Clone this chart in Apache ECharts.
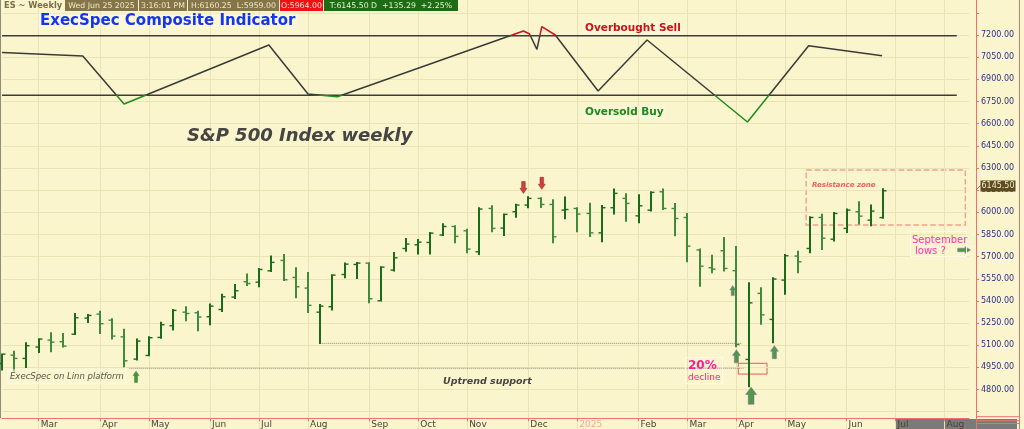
<!DOCTYPE html>
<html>
<head>
<meta charset="utf-8">
<script src="https://cdn.jsdelivr.net/npm/echarts/dist/echarts.min.js"></script>
<style>
html,body{margin:0;padding:0;background:#faf5cc;}
#c{width:1024px;height:429px;}
</style>
</head>
<body>
<div id="c"></div>
<script>
// ---- weekly categories (Friday dates) ----
const weeks = ['2024-02-09','2024-02-16','2024-02-23','2024-03-01','2024-03-08','2024-03-15','2024-03-22','2024-03-29',
'2024-04-05','2024-04-12','2024-04-19','2024-04-26','2024-05-03','2024-05-10','2024-05-17','2024-05-24','2024-05-31',
'2024-06-07','2024-06-14','2024-06-21','2024-06-28','2024-07-05','2024-07-12','2024-07-19','2024-07-26',
'2024-08-02','2024-08-09','2024-08-16','2024-08-23','2024-08-30','2024-09-06','2024-09-13','2024-09-20','2024-09-27',
'2024-10-04','2024-10-11','2024-10-18','2024-10-25','2024-11-01','2024-11-08','2024-11-15','2024-11-22','2024-11-29',
'2024-12-06','2024-12-13','2024-12-20','2024-12-27','2025-01-03','2025-01-10','2025-01-17','2025-01-24','2025-01-31',
'2025-02-07','2025-02-14','2025-02-21','2025-02-28','2025-03-07','2025-03-14','2025-03-21','2025-03-28',
'2025-04-04','2025-04-11','2025-04-18','2025-04-25','2025-05-02','2025-05-09','2025-05-16','2025-05-23','2025-05-30',
'2025-06-06','2025-06-13','2025-06-20','2025-06-27','2025-07-04','2025-07-11','2025-07-18','2025-07-25',
'2025-08-01','2025-08-08','2025-08-15'];

// ---- ES weekly OHLC ----
const opens = [4977,5033,5011,5088,5135,5124,5175,5284,5311,5270,5157,5006,5031,5153,5232,5324,5320,5293,5342,5426,
5530,5527,5604,5674,5559,5487,5324,5361,5579,5647,5656,5401,5609,5755,5780,5796,5846,5904,5875,5733,
6026,5893,6004,6049,6094,6053,6015,6026,5992,5861,6031,6094,5976,6015,6139,6026,5965,5745,5625,5740,
5605,5004,5451,5275,5541,5704,5755,5965,5818,5891,6004,5947,5964];
const highs = [5040,5060,5117,5144,5185,5180,5315,5309,5331,5279,5209,5142,5157,5255,5342,5361,5331,5379,5446,5512,
5582,5620,5704,5715,5625,5593,5376,5577,5656,5661,5658,5631,5728,5823,5816,5864,5922,5909,5886,6031,
6044,5988,6055,6105,6098,6085,6103,6031,6062,6046,6157,6125,6119,6139,6157,6060,5992,5751,5710,5830,
5769,5523,5489,5557,5715,5737,5970,5986,5999,6022,6071,6049,6160.25];
const lows = [4932,4927,4950,5051,5056,5088,5173,5254,5180,5142,4954,5000,5029,5148,5203,5266,5198,5239,5329,5417,
5505,5496,5600,5539,5421,5322,5112,5338,5557,5552,5388,5399,5602,5737,5717,5717,5843,5794,5726,5715,
5868,5843,5967,6031,6033,5794,5956,5868,5837,5801,5988,5940,5929,6008,6019,5841,5665,5500,5591,5602,
5090,4819,5243,5117,5446,5591,5726,5749,5805,5864,5920,5909,5959];
const closes = [5040,5011,5097,5142,5121,5094,5286,5302,5246,5162,4995,5128,5151,5239,5336,5315,5291,5365,5428,5469,
5518,5613,5661,5543,5496,5370,5365,5575,5649,5656,5415,5629,5692,5785,5798,5859,5904,5837,5751,6022,
5891,5986,6049,6094,6053,5834,6019,5988,5861,6031,6128,6060,6044,6135,6026,5958,5771,5635,5615,5620,
5105,5387,5306,5548,5706,5665,5965,5825,5992,6015,5974,6008,6145.5];

// ---- ExecSpec composite indicator (zig-zag pivots: week position, level) ----
const compWeek = [0, 6.6, 9.97, 21.8, 25.0, 27.4, 42.6, 43.1, 43.7, 44.1, 45.2, 48.7, 52.7, 60.9, 65.9, 71.9];
const compVal  = [63.1, 59.6, 11.2, 70.6, 21.3, 18.6, 84.7, 81.7, 66.3, 89.1, 80.7, 24.3, 75.7, -6.9, 69.9, 59.9];
const overbought = 80, oversold = 20;

// ---- price tick labels ----
const priceTickMin = 4800, priceTickMax = 7200, priceStep = 150;

// ---- annotations (week position, price) ----
const supportLevels = [[10.4, 60.6, 4944], [26.0, 60.4, 5113]];
const resistanceZone = [65.7, 78.7, 6286, 5914];
const declineBox = [60.15, 62.5, 4978, 4905];
const arrowMarks = [
  [10.95, 4887, 'upGreen'], [42.6, 6168, 'downRed'], [44.1, 6196, 'downRed'],
  [59.7, 5470, 'upSmall'], [60.0, 5025, 'upPurple'], [63.1, 5053, 'upPurple'],
  [61.2, 4758, 'upBig'], [78.6, 5745, 'right']
];
const monthNames = ['Jan','Feb','Mar','Apr','May','Jun','Jul','Aug','Sep','Oct','Nov','Dec'];

const UP = 'path://M5,0L10,6L7.6,6L7.6,14L2.4,14L2.4,6L0,6Z';
const DOWN = 'path://M2.4,0L7.6,0L7.6,8L10,8L5,14L0,8L2.4,8Z';
const RIGHT = 'path://M0,2.4L8,2.4L8,0L14,5L8,10L8,7.6L0,7.6Z';
const arrowStyles = {
  upGreen:  {symbol: UP, size: [7, 12], item: {color: '#1f7a1f'}},
  downRed:  {symbol: DOWN, size: [7, 12], item: {color: '#c8141c', borderColor: '#7a0a0a', borderWidth: 0.5}},
  upSmall:  {symbol: UP, size: [6, 10], item: {color: '#1a8a1a', borderColor: '#b04ad8', borderWidth: 0.5}},
  upPurple: {symbol: UP, size: [8, 13], item: {color: '#1a8a1a', borderColor: '#b04ad8', borderWidth: 0.6}},
  upBig:    {symbol: UP, size: [11, 17], item: {color: '#1a8a1a', borderColor: '#b04ad8', borderWidth: 0.7}},
  right:    {symbol: RIGHT, size: [13, 7], item: {color: '#1a8a1a', borderColor: '#b04ad8', borderWidth: 0.5}}
};

function isMonthStart(i) {
  if (i === 0) return false;
  return weeks[i].slice(5, 7) !== weeks[i - 1].slice(5, 7);
}

const ohlcData = opens.map((o, i) => [i, o, highs[i], lows[i], closes[i]]);
const compData = compWeek.map((w, i) => [w, compVal[i]]);
const lastX = 78;

function renderOHLC(params, api) {
  const i = api.value(0);
  const h = api.coord([i, api.value(2)]);
  const l = api.coord([i, api.value(3)]);
  const o = api.coord([i, api.value(1)]);
  const c = api.coord([i, api.value(4)]);
  const x = Math.round(h[0]);
  const up = api.value(4) >= api.value(1);
  const col = up ? '#1a6b1a' : '#3f8a3c';
  const st = {stroke: col, lineWidth: 2};
  const tk = {stroke: col, lineWidth: 1.4};
  return {type: 'group', children: [
    {type: 'line', shape: {x1: x, y1: h[1] - 0.5, x2: x, y2: l[1] + 0.5}, style: st},
    {type: 'line', shape: {x1: x - 3.5, y1: o[1], x2: x - 1, y2: o[1]}, style: tk},
    {type: 'line', shape: {x1: x + 1, y1: c[1], x2: x + 3.5, y2: c[1]}, style: tk}
  ]};
}

const F = 'DejaVu Sans';
function hdrBox(x, w, bg, txt, col) {
  return [
    {type: 'rect', shape: {x: x, y: 0, width: w, height: 11}, style: {fill: bg}, z: 30},
    {type: 'text', x: x + w / 2, y: 5.8, z: 31, style: {text: txt, fill: col, font: '7.8px "' + F + '"', align: 'center', verticalAlign: 'middle'}}
  ];
}
function label(x, y, txt, font, col, extra) {
  return Object.assign({type: 'text', x: x, y: y, z: 30,
    style: Object.assign({text: txt, fill: col, font: font, verticalAlign: 'middle'}, extra || {})});
}

const graphics = [].concat(
  [{type: 'line', shape: {x1: 0.5, y1: 0, x2: 0.5, y2: 418}, style: {stroke: '#8c8c80', lineWidth: 1}, z: 5},
   {type: 'rect', shape: {x: 895, y: 419, width: 122, height: 10}, style: {fill: '#7a7a78'}, z: 1},
   {type: 'line', shape: {x1: 1019.5, y1: 0, x2: 1019.5, y2: 429}, style: {stroke: '#f07070', lineWidth: 1}, z: 5},
   {type: 'line', shape: {x1: 976, y1: 416.7, x2: 1019, y2: 416.7}, style: {stroke: '#f07070', lineWidth: 1}, z: 5},
   {type: 'line', shape: {x1: 976, y1: 420.7, x2: 1019, y2: 420.7}, style: {stroke: '#f07070', lineWidth: 1}, z: 5},
   {type: 'line', shape: {x1: 976, y1: 423.5, x2: 1019, y2: 423.5}, style: {stroke: '#f07070', lineWidth: 1}, z: 5},
   label(4, 6, 'ES ~ Weekly', 'bold 8.3px "' + F + '"', '#7a6e4a')],
  hdrBox(65, 73, '#857649', 'Wed Jun 25 2025', '#f0e8c8'),
  hdrBox(139, 48, '#857649', '3:16:01 PM', '#f0e8c8'),
  hdrBox(188, 91, '#857649', 'H:6160.25  L:5959.00', '#f0e8c8'),
  hdrBox(280, 43, '#f01212', 'O:5964.00', '#ffe0e0'),
  hdrBox(324, 134, '#1d6b12', 'T:6145.50 D  +135.29  +2.25%', '#e4f2d8'),
  [label(38, 21, 'ExecSpec Composite Indicator', 'bold 15px "' + F + '"', '#1336f0',
      {backgroundColor: 'rgba(255,255,255,0.22)', padding: [1, 2, 1, 2]}),
   label(583, 28, 'Overbought Sell', 'bold 10.5px "' + F + '"', '#cc1212',
      {backgroundColor: 'rgba(255,255,255,0.2)', padding: [1, 2, 1, 2]}),
   label(583, 112, 'Oversold Buy', 'bold 10.5px "' + F + '"', '#1a8a1a',
      {backgroundColor: 'rgba(255,255,255,0.2)', padding: [1, 2, 1, 2]}),
   label(187, 136, 'S&P 500 Index weekly', 'italic bold 18px "' + F + '"', '#454545'),
   label(8, 376.5, 'ExecSpec on Linn platform', 'italic 8.5px "' + F + '"', '#555',
      {borderColor: '#fffbe6', borderWidth: 1, padding: [2, 2, 2, 2]}),
   label(443, 382, 'Uptrend support', 'italic bold 9.5px "' + F + '"', '#444'),
   label(688, 366, '20%', 'bold 12px "' + F + '"', '#ff1a9c'),
   label(688, 378, 'decline', '9px "' + F + '"', '#ff1a9c'),
   {type: 'rect', shape: {x: 685.5, y: 357.5, width: 37, height: 26}, style: {fill: 'none', stroke: '#fffbe6', lineWidth: 1}, z: 29},
   label(812, 185, 'Resistance zone', 'italic bold 7px "' + F + '"', '#ee6060'),
   label(912, 240, 'September', '10px "' + F + '"', '#ff2fb0'),
   label(915, 251, 'lows ?', '10px "' + F + '"', '#ff2fb0'),
   {type: 'rect', shape: {x: 910.5, y: 231.5, width: 56, height: 25}, style: {fill: 'none', stroke: '#fffbe6', lineWidth: 1}, z: 29},
   {type: 'line', shape: {x1: 976, y1: 190, x2: 981, y2: 185}, style: {stroke: '#7a7a6a', lineWidth: 1}, z: 30},
   {type: 'rect', shape: {x: 980.5, y: 180.5, width: 35, height: 11}, style: {fill: '#5e4c1e'}, z: 30},
   {type: 'text', x: 998, y: 186.3, z: 31, style: {text: '6145.50', fill: '#f4ecd0', font: '8px "' + F + '"', align: 'center', verticalAlign: 'middle'}}]
);

const chart = echarts.init(document.getElementById('c'), null, {renderer: 'canvas'});
chart.setOption({
  animation: false,
  backgroundColor: '#faf5cc',
  textStyle: {fontFamily: F},
  grid: {left: 2, top: -9.3, width: 967, height: 443.2, containLabel: false, outerBoundsMode: 'none', show: false},
  xAxis: [
    {type: 'category', data: weeks, boundaryGap: false, gridIndex: 0, z: 10, offset: -15.6, position: 'bottom',
     axisLine: {onZero: false, lineStyle: {color: '#f07070', width: 1}},
     axisTick: {show: true, interval: (i) => isMonthStart(i), length: 3, lineStyle: {color: '#f07070'}},
     splitLine: {show: true, interval: (i) => isMonthStart(i), lineStyle: {color: '#ebe3b4', width: 1}},
     axisLabel: {interval: (i) => isMonthStart(i), align: 'left', margin: 2, padding: [0, 0, 0, 2],
       fontSize: 9, color: '#4a4232', fontFamily: F,
       formatter: (v) => { const m = +v.slice(5, 7); return m === 1 ? '{y|' + v.slice(0, 4) + '}' : monthNames[m - 1]; },
       rich: {y: {color: '#f3a6a0', fontSize: 9, fontFamily: F}}}},
    {type: 'value', min: 0, max: 79, show: false, gridIndex: 0, axisLine: {onZero: false}}
  ],
  yAxis: [
    {type: 'value', position: 'right', offset: 7, min: 4500, max: 7500, interval: priceStep, gridIndex: 0, z: 10,
     axisLine: {show: true, onZero: false, lineStyle: {color: '#f07070', width: 1}},
     axisTick: {show: true, length: 3, lineStyle: {color: '#f07070'}},
     splitLine: {show: true, lineStyle: {color: '#ebe3b4', width: 1}},
     axisLabel: {margin: 5, fontSize: 8, color: '#2b2f8c', fontFamily: F, padding: [0, 0, 4, 0],
       formatter: (v) => (v >= priceTickMin && v <= priceTickMax) ? v.toFixed(2) : ''}},
    {type: 'value', min: -320.9, max: 125.3, show: false, gridIndex: 0, axisLine: {onZero: false}}
  ],
  visualMap: {show: false, type: 'piecewise', seriesIndex: 1, dimension: 1,
    pieces: [{lt: oversold, color: '#1d8c1d'}, {gte: oversold, lte: overbought, color: '#3a3a3a'}, {gt: overbought, color: '#d01018'}]},
  series: [
    {type: 'custom', name: 'ES', xAxisIndex: 0, yAxisIndex: 0, data: ohlcData,
     encode: {x: 0, y: [1, 2, 3, 4]}, renderItem: renderOHLC, z: 15},
    {type: 'line', name: 'Composite', xAxisIndex: 1, yAxisIndex: 1, data: compData, symbol: 'none',
     lineStyle: {width: 1.5}, z: 16},
    {type: 'line', name: 'OB', xAxisIndex: 1, yAxisIndex: 1, data: [[0, overbought], [lastX, overbought]], symbol: 'none',
     lineStyle: {color: '#3c3c3c', width: 1.4}, z: 14},
    {type: 'line', name: 'OS', xAxisIndex: 1, yAxisIndex: 1, data: [[0, oversold], [lastX, oversold]], symbol: 'none',
     lineStyle: {color: '#3c3c3c', width: 1.4}, z: 14},
    {type: 'line', name: 'S1', xAxisIndex: 1, yAxisIndex: 0,
     data: [[supportLevels[0][0], supportLevels[0][2]], [supportLevels[0][1], supportLevels[0][2]]], symbol: 'none',
     lineStyle: {color: '#8d8a78', width: 1, type: 'dotted'}, z: 13,
     markArea: {silent: true, data: [
       [{coord: [resistanceZone[0], resistanceZone[2]], itemStyle: {color: 'rgba(0,0,0,0)', borderColor: '#f4a08c', borderWidth: 1.4, borderType: 'dashed'}},
        {coord: [resistanceZone[1], resistanceZone[3]]}],
       [{coord: [declineBox[0], declineBox[2]], itemStyle: {color: 'rgba(0,0,0,0)', borderColor: '#e45a5a', borderWidth: 1}},
        {coord: [declineBox[1], declineBox[3]]}]
     ]}},
    {type: 'line', name: 'S2', xAxisIndex: 1, yAxisIndex: 0,
     data: [[supportLevels[1][0], supportLevels[1][2]], [supportLevels[1][1], supportLevels[1][2]]], symbol: 'none',
     lineStyle: {color: '#8d8a78', width: 1, type: 'dotted'}, z: 13},
    {type: 'scatter', name: 'Arrows', xAxisIndex: 1, yAxisIndex: 0, z: 17, clip: false,
     data: arrowMarks.map(a => {
       const s = arrowStyles[a[2]];
       return {value: [a[0], a[1]], symbol: s.symbol, symbolSize: s.size, itemStyle: s.item};
     })}
  ],
  graphic: graphics
});
</script>
</body>
</html>
